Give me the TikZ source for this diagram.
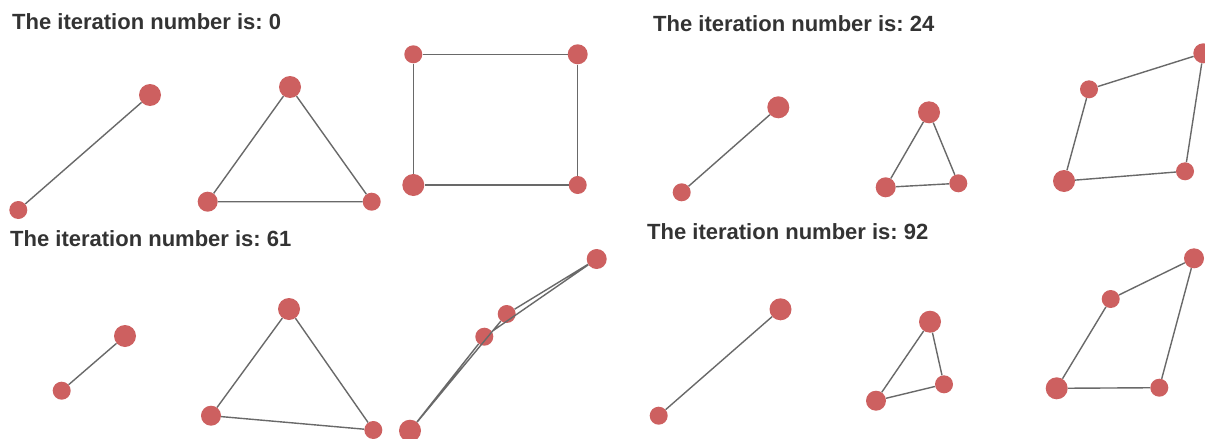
\documentclass[tikz,border=0pt]{standalone}
\usepackage{fontspec}
\newfontfamily\titlefont{Liberation Sans}
\frenchspacing
\definecolor{nodered}{RGB}{205,96,96}
\definecolor{edgegray}{RGB}{105,105,105}
\definecolor{titlegray}{RGB}{51,51,51}
\tikzset{
  vbig/.style={circle, fill=nodered, inner sep=0pt, minimum size=22pt},
  vmid/.style={circle, fill=nodered, inner sep=0pt, minimum size=20pt},
  vsmall/.style={circle, fill=nodered, inner sep=0pt, minimum size=18pt},
  edge/.style={draw=edgegray, line width=1.4pt},
  title/.style={anchor=base west, inner sep=0pt, text=titlegray, font=\titlefont\bfseries\frenchspacing\fontsize{22}{26}\selectfont}
}
\begin{document}
\begin{tikzpicture}[x=1pt, y=-1pt]
\useasboundingbox (0,0) rectangle (1205,439);
\fill[white] (0,0) rectangle (1205,439);

% ---------- Panel: iteration 0 ----------
\node[title] (t0) at (12,29.3) {The iteration number is: 0};
\node[vsmall] (a1) at (18.3,210) {};
\node[vbig] (a2) at (150,95) {};
\node[vbig] (b1) at (290,87) {};
\node[vmid] (b2) at (207.7,201.7) {};
\node[vsmall] (b3) at (371.7,201.7) {};
\node[vsmall] (c1) at (413.3,54.3) {};
\node[vmid] (c2) at (577.7,54.3) {};
\node[vbig] (c3) at (413.3,185) {};
\node[vsmall] (c4) at (577.7,185) {};
\draw[edge] (a1) -- (a2);
\draw[edge] (b1) -- (b2) -- (b3) -- (b1);
\draw[edge] (c1) -- (c2) -- (c4) -- (c3) -- (c1);

% ---------- Panel: iteration 24 ----------
\node[title] (t24) at (653,31) {The iteration number is: 24};
\node[vsmall] (d1) at (681.7,192.3) {};
\node[vbig] (d2) at (778.3,107.3) {};
\node[vbig] (e1) at (929,112.3) {};
\node[vmid] (e2) at (885.7,187.3) {};
\node[vsmall] (e3) at (958.3,183.3) {};
\node[vsmall] (f1) at (1089,89.3) {};
\node[vmid] (f2) at (1203.3,53.3) {};
\node[vbig] (f3) at (1064,181) {};
\node[vsmall] (f4) at (1185,171.3) {};
\draw[edge] (d1) -- (d2);
\draw[edge] (e1) -- (e2) -- (e3) -- (e1);
\draw[edge] (f1) -- (f2) -- (f4) -- (f3) -- (f1);

% ---------- Panel: iteration 61 ----------
\node[title] (t61) at (10,246.7) {The iteration number is: 61};
\node[vsmall] (g1) at (61.7,390.7) {};
\node[vbig] (g2) at (125,336) {};
\node[vbig] (h1) at (289,309) {};
\node[vmid] (h2) at (211,415.7) {};
\node[vsmall] (h3) at (373.3,430) {};
\node[vbig] (k1) at (410,430.7) {};
\node[vsmall] (k2) at (484.3,336.7) {};
\node[vsmall] (k3) at (506.7,314) {};
\node[vmid] (k4) at (596.7,259) {};
\draw[edge] (g1) -- (g2);
\draw[edge] (h1) -- (h2) -- (h3) -- (h1);
\draw[edge] (k1) -- (k2) -- (k4) -- (k3) -- (k1);

% ---------- Panel: iteration 92 ----------
\node[title] (t92) at (647,239) {The iteration number is: 92};
\node[vsmall] (m1) at (658.7,415.7) {};
\node[vbig] (m2) at (780.5,309.3) {};
\node[vbig] (n1) at (930,321.7) {};
\node[vmid] (n2) at (876,400.7) {};
\node[vsmall] (n3) at (944,384.3) {};
\node[vsmall] (p1) at (1110.7,299) {};
\node[vmid] (p2) at (1194,258.3) {};
\node[vbig] (p3) at (1056.7,388.3) {};
\node[vsmall] (p4) at (1159.3,387.7) {};
\draw[edge] (m1) -- (m2);
\draw[edge] (n1) -- (n2) -- (n3) -- (n1);
\draw[edge] (p1) -- (p2) -- (p4) -- (p3) -- (p1);
\end{tikzpicture}
\end{document}
